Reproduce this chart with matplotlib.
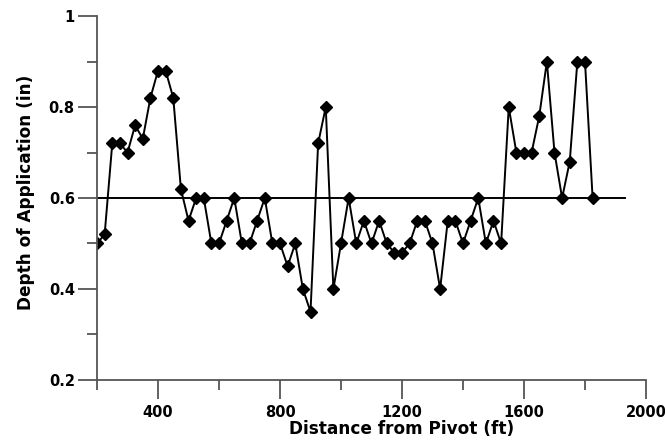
import numpy as np
import matplotlib
matplotlib.use('Agg')
import matplotlib.pyplot as plt
from matplotlib.ticker import FixedLocator

plt.rcParams['font.family'] = ['DejaVu Sans']
plt.rcParams['font.weight'] = 'bold'

# data
DIST = [200, 225, 250, 275, 300, 325, 350, 375, 400, 425, 450, 475, 500,
        525, 550, 575, 600, 625, 650, 675, 700, 725, 750, 775, 800, 825,
        850, 875, 900, 925, 950, 975, 1000, 1025, 1050, 1075, 1100, 1125,
        1150, 1175, 1200, 1225, 1250, 1275, 1300, 1325, 1350, 1375, 1400,
        1425, 1450, 1475, 1500, 1525, 1550, 1575, 1600, 1625, 1650, 1675,
        1700, 1725, 1750, 1775, 1800, 1825]
DEPTH = [0.50, 0.52, 0.72, 0.72, 0.70, 0.76, 0.73, 0.82, 0.88, 0.88, 0.82,
         0.62, 0.55, 0.60, 0.60, 0.50, 0.50, 0.55, 0.60, 0.50, 0.50, 0.55,
         0.60, 0.50, 0.50, 0.45, 0.50, 0.40, 0.35, 0.72, 0.80, 0.40, 0.50,
         0.60, 0.50, 0.55, 0.50, 0.55, 0.50, 0.48, 0.48, 0.50, 0.55, 0.55,
         0.50, 0.40, 0.55, 0.55, 0.50, 0.55, 0.60, 0.50, 0.55, 0.50, 0.80,
         0.70, 0.70, 0.70, 0.78, 0.90, 0.70, 0.60, 0.68, 0.90, 0.90, 0.60]
TARGET_X = [200, 1930]
TARGET_Y = [0.6, 0.6]

XMAJ = [400, 800, 1200, 1600, 2000]
XMIN = [200, 600, 1000, 1400, 1800]
YMAJ = [0.2, 0.4, 0.6, 0.8, 1.0]
YLAB = ['0.2', '0.4', '0.6', '0.8', '1']
YMIN = [0.3, 0.5, 0.7, 0.9]

fig = plt.figure(figsize=(6.65, 4.4), dpi=100)
ax = fig.add_axes([0.1459, 0.1364, 0.8255, 0.8272])

ax.plot(TARGET_X, TARGET_Y, color='black', lw=1.4)
ax.plot(DIST, DEPTH, color='black', lw=1.4, marker='D', ms=5.8)

ax.set_xlim(200, 2000)
ax.set_ylim(0.2, 1.0)
ax.xaxis.set_major_locator(FixedLocator(XMAJ))
ax.xaxis.set_minor_locator(FixedLocator(XMIN))
ax.set_yticks(YMAJ)
ax.set_yticklabels(YLAB)
ax.yaxis.set_minor_locator(FixedLocator(YMIN))

for s in ['top', 'right']:
    ax.spines[s].set_visible(False)
for s in ['left', 'bottom']:
    ax.spines[s].set_color('#555555')
    ax.spines[s].set_linewidth(1.3)
ax.tick_params(which='major', length=14, width=1.3, color='#555555',
               labelsize=10.5, pad=2)
ax.tick_params(axis='x', which='major', pad=4)
ax.tick_params(which='minor', length=7.5, width=1.3, color='#555555')

ax.set_xlabel('Distance from Pivot (ft)', fontsize=12.2, fontweight='bold',
              va='center')
ax.xaxis.set_label_coords(0.555, -0.136)
ax.set_ylabel('Depth of Application (in)', fontsize=12.2, fontweight='bold',
              va='center')
ax.yaxis.set_label_coords(-0.13, 0.515)

fig.savefig('out.png', dpi=100)
